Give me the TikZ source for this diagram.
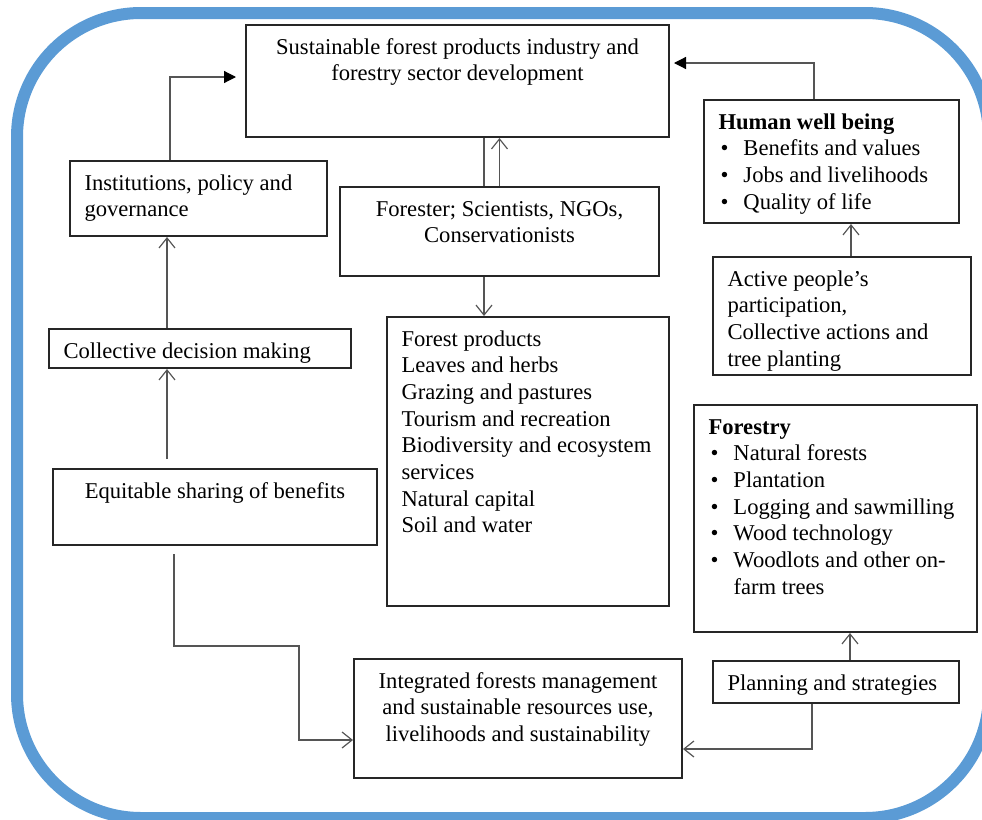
\documentclass[tikz,border=0pt]{standalone}
\usepackage{fontspec}
\setmainfont{Liberation Serif}
\usepackage{xcolor}
\usepackage{tikz}
\usetikzlibrary{arrows.meta}

\definecolor{frameblue}{RGB}{91,155,213}
\definecolor{boxline}{RGB}{38,38,38}
\definecolor{arrowgray}{RGB}{85,85,85}

\newlength{\px}\setlength{\px}{0.5pt}
% box contents: width, height (in px), text
\newcommand{\boxl}[3]{\parbox[c][#2\px][t]{#1\px}{\raggedright\leftskip=7.25pt\relax
  \vspace*{\dimexpr29\px-\ht\strutbox\relax}\strut#3}}
\newcommand{\boxc}[3]{\parbox[c][#2\px][t]{#1\px}{\centering
  \vspace*{\dimexpr29\px-\ht\strutbox\relax}\strut#3}}
\newcommand{\itm}{\makebox[12.5pt][l]{\hspace{1pt}\textbullet}}

\begin{document}
\begin{tikzpicture}[
  x=0.5pt, y=-0.5pt,
  font=\fontsize{11.3}{13.35}\selectfont,
  >={Straight Barb[length=5pt,width=8pt]},
  box/.style={draw=boxline, line width=1pt, inner sep=0pt, anchor=north west},
  frame/.style={draw=frameblue, line width=6pt, rounded corners=62pt},
  edge/.style={->, draw=arrowgray, line width=0.6pt},
  fedge/.style={-{Triangle[length=6pt,width=6pt,color=black]}, draw=arrowgray, line width=0.6pt},
  plain/.style={draw=arrowgray, line width=0.6pt}
]
\useasboundingbox (0,0) rectangle (982,820);
\draw[frame] (17,13) rectangle (989,818);

\node[box] (top) at (245,24) {\boxc{423}{112}{Sustainable forest products industry and\\forestry sector development}};
\node[box] (inst) at (69,160) {\boxl{257}{75}{Institutions, policy and\\governance}};
\node[box] (fst) at (339,186) {\boxc{319}{89}{Forester; Scientists, NGOs,\\Conservationists}};
\node[box] (hwb) at (703,99) {\boxl{255}{123}{\textbf{Human well being}\\
  \itm Benefits and values\\ \itm Jobs and livelihoods\\ \itm Quality of life}};
\node[box] (act) at (712,256) {\boxl{258}{118}{Active people’s\\participation,\\Collective actions and\\tree planting}};
\node[box] (fp) at (386,316) {\boxl{282}{289}{Forest products\\Leaves and herbs\\Grazing and pastures\\Tourism and recreation\\
  Biodiversity and ecosystem\\services\\Natural capital\\Soil and water}};
\node[box] (cdm) at (48,328) {\boxl{302}{39}{Collective decision making}};
\node[box] (eq) at (52,468) {\boxc{324}{76}{Equitable sharing of benefits}};
\node[box] (fry) at (693,404) {\boxl{283}{227}{\textbf{Forestry}\\
  \itm Natural forests\\ \itm Plantation\\ \itm Logging and sawmilling\\ \itm Wood technology\\
  \itm Woodlots and other on-\\ \hspace*{12.5pt}farm trees}};
\node[box] (plan) at (712,660) {\boxl{246}{42}{Planning and strategies}};
\node[box] (int) at (353,658) {\boxc{328}{119}{Integrated forests management\\and sustainable resources use,\\livelihoods and sustainability}};

\coordinate (bend) at (299,646);

\draw[fedge, shorten >=4.5pt] ([xshift=-14.25pt]inst.north) |- ([yshift=2pt]top.west);
\draw[fedge, shorten >=2pt] ([xshift=-8.75pt]hwb.north) |- ([yshift=9pt]top.east);
\draw[plain] ([xshift=-7.75pt]fst.north) -- ([xshift=-7.75pt]fst.north |- top.south);
\draw[edge] (fst.north) -- (fst.north |- top.south);
\draw[edge] ([xshift=-7.75pt]fst.south) -- ([xshift=-7.75pt]fst.south |- fp.north);
\draw[edge, shorten <=4.5pt] ([xshift=-24pt]eq.north) -- ([xshift=-24pt]eq.north |- cdm.south);
\draw[edge] ([xshift=-16.5pt]cdm.north) -- ([xshift=-16.5pt]cdm.north |- inst.south);
\draw[edge, shorten <=4pt] ([xshift=-20.5pt]eq.south) |- (bend) |- ([yshift=-10.75pt]int.west);
\draw[edge] ([xshift=-12pt]plan.south) |- ([yshift=-15.25pt]int.east);
\draw[edge] ([xshift=7pt]plan.north) -- ([xshift=7pt]plan.north |- fry.south);
\draw[edge] ([xshift=4.5pt]act.north) -- ([xshift=4.5pt]act.north |- hwb.south);
\end{tikzpicture}
\end{document}
